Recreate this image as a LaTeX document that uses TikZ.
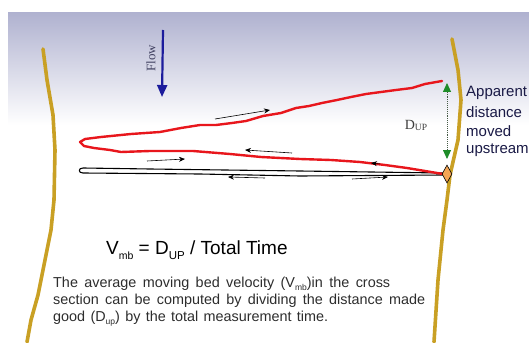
\documentclass[tikz,border=0pt]{standalone}
\usepackage{fontspec}
\setmainfont{Liberation Sans}
\newfontfamily\seriffont{Liberation Serif}
\usetikzlibrary{shapes.geometric,arrows.meta}
\definecolor{bankgold}{RGB}{201,160,36}
\definecolor{trackred}{RGB}{232,22,28}
\definecolor{flowblue}{RGB}{28,28,156}
\definecolor{skytop}{RGB}{176,178,208}
\definecolor{dupgreen}{RGB}{30,140,40}
\definecolor{diafill}{RGB}{245,165,85}
\definecolor{labelnavy}{RGB}{26,26,70}
\definecolor{paragray}{RGB}{45,45,45}
\tikzset{
  bank/.style={draw=bankgold,line width=3.6pt,line join=round,line cap=round},
  track/.style={draw=trackred,line width=2.4pt,line join=round,line cap=round},
  smallarrow/.style={draw=black,line width=0.6pt,-{Stealth[length=6pt,width=5pt]}},
  sidelabel/.style={font=\fontsize{15}{19}\selectfont,text=labelnavy,align=left,inner sep=0pt},
  paraline/.style={font=\fontsize{14.4}{17}\selectfont,text=paragray,anchor=west,inner sep=0pt}
}
\newcommand{\sbx}[2]{\raisebox{-0.4ex}{\fontsize{#1}{#1}\selectfont #2}}
\begin{document}
\begin{tikzpicture}[x=1pt,y=-1pt]
\useasboundingbox (0,0) rectangle (529,342);
\fill[white] (0,0) rectangle (529,342);
\shade[top color=skytop,bottom color=white] (8,13) rectangle (529,125);

% banks
\draw[bank] (43,49) -- (47,80) -- (53,115) -- (55,150) -- (54,200) -- (51,230) -- (44,265) -- (38,295) -- (31,320) -- (27,342);
\draw[bank] (452,39) -- (458,70) -- (461,100) -- (458,140) -- (450,175) -- (447,200) -- (443,230) -- (438,280) -- (434,342);

% flow arrow
\coordinate (flowtop) at (163,30);
\coordinate (flowtip) at (162,97);
\draw[flowblue,line width=2.2pt,-{Triangle[length=12pt,width=10pt]}] (flowtop) -- (flowtip);
\node[font=\seriffont\fontsize{13}{13}\selectfont,text={rgb,255:red,64;green,64;blue,96},rotate=90] (flowlabel) at (151,58) {Flow};

% black double track
\draw[black,line width=1.1pt,line join=round] (443,173) -- (300,171) -- (150,169) -- (83,168) .. controls (78,168) and (78,173) .. (83,173) -- (200,174) -- (300,176) -- (443,175);

% red track
\draw[track] (442,81) -- (425,84) -- (412,88) -- (396,90) -- (381,92) -- (366,94) -- (351,97) -- (337,100) -- (322,103) -- (309,106) -- (296,108) -- (281,113) -- (263,116) -- (246,121) -- (232,123) -- (216,125) -- (200,125) -- (181,128) -- (160,132) -- (131,134) -- (101,137) -- (85,139) -- (80,142) -- (84,146) -- (94,148) -- (110,150) -- (121,152) -- (150,151) -- (193,151) -- (230,154) -- (261,157) -- (300,159) -- (331,160) -- (360,162) -- (385,165) -- (407,168) -- (425,171) -- (443,174);

% small direction arrows
\coordinate (a1s) at (215,119); \coordinate (a1e) at (270,110);
\coordinate (a2s) at (292,153); \coordinate (a2e) at (245,150);
\coordinate (a3s) at (147,161); \coordinate (a3e) at (185,159);
\coordinate (a4s) at (265,178); \coordinate (a4e) at (228,177);
\coordinate (a5s) at (352,179); \coordinate (a5e) at (388,177);
\coordinate (a6s) at (380,164); \coordinate (a6e) at (371,163);
\draw[smallarrow] (a1s) -- (a1e);
\draw[smallarrow] (a2s) -- (a2e);
\draw[smallarrow] (a3s) -- (a3e);
\draw[smallarrow] (a4s) -- (a4e);
\draw[smallarrow] (a5s) -- (a5e);
\draw[smallarrow] (a6s) -- (a6e);

% diamond and D_UP arrow
\node[diamond,draw=black,fill=diafill,line width=0.6pt,minimum width=10pt,minimum height=18pt,inner sep=0pt,aspect=0.55] (dia) at (447,174) {};
\coordinate (dupbot) at (447,159);
\coordinate (duptop) at (447,83);
\draw[densely dotted,line width=0.9pt,draw={rgb,255:red,70;green,90;blue,70},
  {Triangle[length=9pt,width=8pt,color=dupgreen]}-{Triangle[length=9pt,width=8pt,color=dupgreen]}] (duptop) -- (dupbot);
\node[font=\seriffont\fontsize{14}{14}\selectfont,text={rgb,255:red,60;green,60;blue,60},inner sep=0pt] (dup) at (416,125) {D\raisebox{-0.15ex}{\fontsize{9.5}{9.5}\selectfont UP}};

\node[sidelabel,anchor=west] (apparent) at (466,93) {Apparent};
\node[sidelabel,anchor=west] (apparent2) at (466,112) {distance};
\node[sidelabel,anchor=west] (apparent3) at (466,131) {moved};
\node[sidelabel,anchor=west] (apparent4) at (466,150) {upstream};

% formula and paragraph
\node[font=\fontsize{19}{19}\selectfont,anchor=west,inner sep=0pt] (formula) at (106,250) {V\raisebox{-0.55ex}{\fontsize{10.5}{10.5}\selectfont mb} = D\raisebox{-0.5ex}{\fontsize{11.5}{11.5}\selectfont UP} / Total Time};
\node[paraline] (p1) at (53,284) {\makebox[337pt][s]{The average moving bed velocity (V\sbx{8.5}{mb})in the cross}};
\node[paraline] (p2) at (53,301) {\makebox[372pt][s]{section can be computed by dividing the distance made}};
\node[paraline] (p3) at (53,319) {\makebox[275pt][s]{good (D\sbx{8.5}{up}) by the total measurement time.}};
\end{tikzpicture}
\end{document}
